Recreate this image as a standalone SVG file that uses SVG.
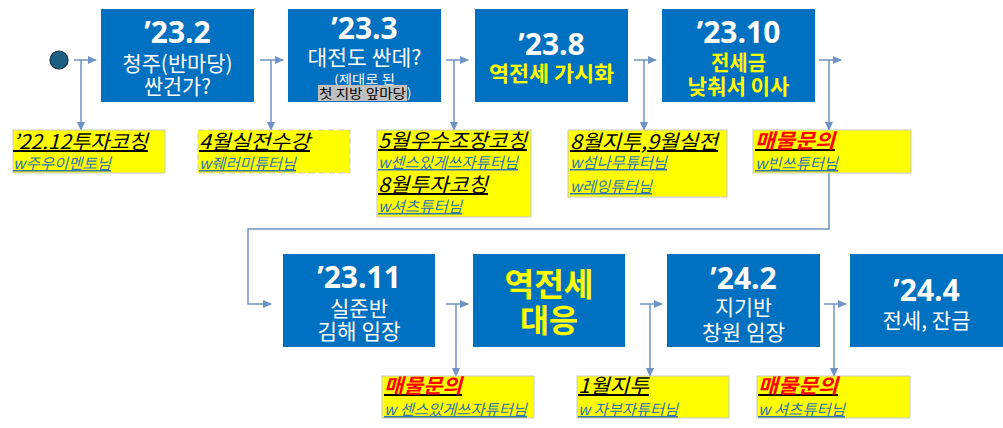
<svg xmlns="http://www.w3.org/2000/svg" width="1003" height="428" viewBox="0 0 1003 428">
<defs>
<marker id="ah" markerUnits="userSpaceOnUse" markerWidth="9" markerHeight="8" refX="8" refY="4" orient="auto">
<path d="M0,0 L9,4 L0,8 z" fill="#6f93c4"/>
</marker>
<style>
text{font-family:"Noto Sans CJK KR","Noto Sans",sans-serif}
.box{fill:#0070c0}
.yb{fill:#ffff00;stroke:#c8c8c8;stroke-width:1}
.t{font-family:"Open Sans","Noto Sans",sans-serif;font-weight:bold;font-size:30px;fill:#fff;text-anchor:middle}
.w{font-size:21px;fill:#fff;text-anchor:middle}
.yl{font-size:21px;fill:#ffff00;font-weight:bold;text-anchor:middle}
.k{font-size:20px;fill:#000;font-style:italic;text-decoration:underline}
.b{font-size:15px;fill:#2f75b5;font-style:italic;text-decoration:underline}
.r{font-size:20px;fill:#000;font-style:italic;font-weight:bold;text-decoration:underline}
.c{fill:none;stroke:#6f93c4;stroke-width:1.5}
</style>
</defs>

<g id="connectors">
<line class="c" x1="74" y1="60" x2="96" y2="60" marker-end="url(#ah)"/>
<line class="c" x1="81" y1="60" x2="81" y2="130" marker-end="url(#ah)"/>
<line class="c" x1="260" y1="60" x2="283" y2="60" marker-end="url(#ah)"/>
<line class="c" x1="271" y1="60" x2="271" y2="130" marker-end="url(#ah)"/>
<line class="c" x1="446" y1="60" x2="468" y2="60" marker-end="url(#ah)"/>
<line class="c" x1="454" y1="60" x2="454" y2="130" marker-end="url(#ah)"/>
<line class="c" x1="634" y1="60" x2="656" y2="60" marker-end="url(#ah)"/>
<line class="c" x1="644" y1="60" x2="644" y2="130" marker-end="url(#ah)"/>
<line class="c" x1="819" y1="60" x2="841" y2="60" marker-end="url(#ah)"/>
<line class="c" x1="829" y1="60" x2="829" y2="130" marker-end="url(#ah)"/>
<path class="c" d="M829,173 V229 H248 V304 H271" marker-end="url(#ah)"/>
<line class="c" x1="446" y1="304" x2="468" y2="304" marker-end="url(#ah)"/>
<line class="c" x1="456" y1="304" x2="456" y2="376" marker-end="url(#ah)"/>
<line class="c" x1="640" y1="304" x2="662" y2="304" marker-end="url(#ah)"/>
<line class="c" x1="650" y1="304" x2="650" y2="376" marker-end="url(#ah)"/>
<line class="c" x1="824" y1="304" x2="846" y2="304" marker-end="url(#ah)"/>
<line class="c" x1="834" y1="304" x2="834" y2="376" marker-end="url(#ah)"/>
</g>

<g id="start"><circle cx="59" cy="60" r="9" fill="#1d5e84" stroke="#0f2f45" stroke-width="1.2"/></g>

<g id="n2302">
<rect class="box" x="101" y="9" width="153" height="93"/>
<text class="t" x="177.5" y="43">’23.2</text>
<text class="w" x="177.5" y="71" textLength="110" lengthAdjust="spacingAndGlyphs">청주(반마당)</text>
<text class="w" x="177.5" y="94" textLength="67" lengthAdjust="spacingAndGlyphs">싼건가?</text>
</g>

<g id="n2303">
<rect class="box" x="288" y="9" width="153" height="93"/>
<text class="t" x="364.5" y="39">’23.3</text>
<text class="w" x="364.5" y="65" textLength="114" lengthAdjust="spacingAndGlyphs">대전도 싼데?</text>
<text class="w" x="364.5" y="84" style="font-size:12px" textLength="61" lengthAdjust="spacingAndGlyphs">(제대로 된</text>
<rect x="318" y="85" width="89" height="16" fill="#bfbfbf"/>
<text x="319" y="98" style="font-size:13px;fill:#000" textLength="87" lengthAdjust="spacingAndGlyphs">첫 지방 앞마당</text>
<text x="407" y="98" style="font-size:13px;fill:#fff">)</text>
</g>

<g id="n2308">
<rect class="box" x="475" y="9" width="153" height="93"/>
<text class="t" x="551.5" y="55">’23.8</text>
<text class="yl" x="551.5" y="81" textLength="125" lengthAdjust="spacingAndGlyphs">역전세 가시화</text>
</g>

<g id="n2310">
<rect class="box" x="662" y="9" width="153" height="93"/>
<text class="t" x="738.5" y="43">’23.10</text>
<text class="yl" x="738.5" y="70" textLength="55" lengthAdjust="spacingAndGlyphs">전세금</text>
<text class="yl" x="738.5" y="94" textLength="102" lengthAdjust="spacingAndGlyphs">낮춰서 이사</text>
</g>

<g id="n2311">
<rect class="box" x="283" y="254" width="152" height="93"/>
<text class="t" x="359" y="288">’23.11</text>
<text class="w" x="359" y="316" textLength="58" lengthAdjust="spacingAndGlyphs">실준반</text>
<text class="w" x="359" y="339" textLength="83" lengthAdjust="spacingAndGlyphs">김해 임장</text>
</g>

<g id="nreverse">
<rect class="box" x="473" y="254" width="152" height="93"/>
<text class="yl" x="549" y="296" style="font-size:32px" textLength="89" lengthAdjust="spacingAndGlyphs">역전세</text>
<text class="yl" x="549" y="332" style="font-size:32px" textLength="58" lengthAdjust="spacingAndGlyphs">대응</text>
</g>

<g id="n2402">
<rect class="box" x="667" y="254" width="153" height="93"/>
<text class="t" x="743.5" y="289">’24.2</text>
<text class="w" x="743.5" y="315" textLength="57" lengthAdjust="spacingAndGlyphs">지기반</text>
<text class="w" x="743.5" y="340" textLength="83" lengthAdjust="spacingAndGlyphs">창원 임장</text>
</g>

<g id="n2404">
<rect class="box" x="850" y="254" width="153" height="93"/>
<text class="t" x="926.5" y="301">’24.4</text>
<text class="w" x="926.5" y="328" textLength="88" lengthAdjust="spacingAndGlyphs">전세, 잔금</text>
</g>

<g id="l1">
<rect class="yb" x="13" y="130" width="152" height="43"/>
<text class="k" x="13" y="149" textLength="135" lengthAdjust="spacingAndGlyphs">’22.12투자코칭</text>
<text class="b" x="13" y="169" textLength="98" lengthAdjust="spacingAndGlyphs">w주우이멘토님</text>
</g>

<g id="l2">
<rect class="yb" x="198" y="130" width="152" height="43" style="stroke-dasharray:6 4"/>
<text class="k" x="199" y="149" textLength="111" lengthAdjust="spacingAndGlyphs">4월실전수강</text>
<text class="b" x="199" y="169" textLength="97" lengthAdjust="spacingAndGlyphs">w줴러미튜터님</text>
</g>

<g id="l3">
<rect class="yb" x="377" y="130" width="154" height="87"/>
<text class="k" x="378" y="148" textLength="149" lengthAdjust="spacingAndGlyphs">5월우수조장코칭</text>
<text class="b" x="378" y="168" textLength="140" lengthAdjust="spacingAndGlyphs">w센스있게쓰자튜터님</text>
<text class="k" x="378" y="192" textLength="110" lengthAdjust="spacingAndGlyphs">8월투자코칭</text>
<text class="b" x="378" y="212" textLength="84" lengthAdjust="spacingAndGlyphs">w셔츠튜터님</text>
</g>

<g id="l4">
<rect class="yb" x="568" y="130" width="159" height="67"/>
<text class="k" x="570" y="149" textLength="148" lengthAdjust="spacingAndGlyphs">8월지투,9월실전</text>
<text class="b" x="570" y="168" textLength="97" lengthAdjust="spacingAndGlyphs">w섬나무튜터님</text>
<text class="b" x="570" y="192" textLength="82" lengthAdjust="spacingAndGlyphs">w레잉튜터님</text>
</g>

<g id="l5">
<rect class="yb" x="753" y="130" width="158" height="43"/>
<text class="r" x="755" y="148" textLength="80" lengthAdjust="spacingAndGlyphs"><tspan fill="#ff0000">매물문의</tspan></text>
<text class="b" x="755" y="169" textLength="83" lengthAdjust="spacingAndGlyphs">w빈쓰튜터님</text>
</g>

<g id="l6">
<rect class="yb" x="382" y="376" width="152" height="42"/>
<text class="r" x="384" y="393" textLength="78" lengthAdjust="spacingAndGlyphs"><tspan fill="#ff0000">매물문의</tspan></text>
<text class="b" x="384" y="415" textLength="143" lengthAdjust="spacingAndGlyphs">w 센스있게쓰자튜터님</text>
</g>

<g id="l7">
<rect class="yb" x="577" y="376" width="152" height="42"/>
<text class="k" x="578" y="393" textLength="71" lengthAdjust="spacingAndGlyphs">1월지투</text>
<text class="b" x="578" y="415" textLength="100" lengthAdjust="spacingAndGlyphs">w 자부자튜터님</text>
</g>

<g id="l8">
<rect class="yb" x="757" y="376" width="153" height="42"/>
<text class="r" x="758" y="393" textLength="80" lengthAdjust="spacingAndGlyphs"><tspan fill="#ff0000">매물문의</tspan></text>
<text class="b" x="758" y="415" textLength="87" lengthAdjust="spacingAndGlyphs">w 셔츠튜터님</text>
</g>
</svg>
